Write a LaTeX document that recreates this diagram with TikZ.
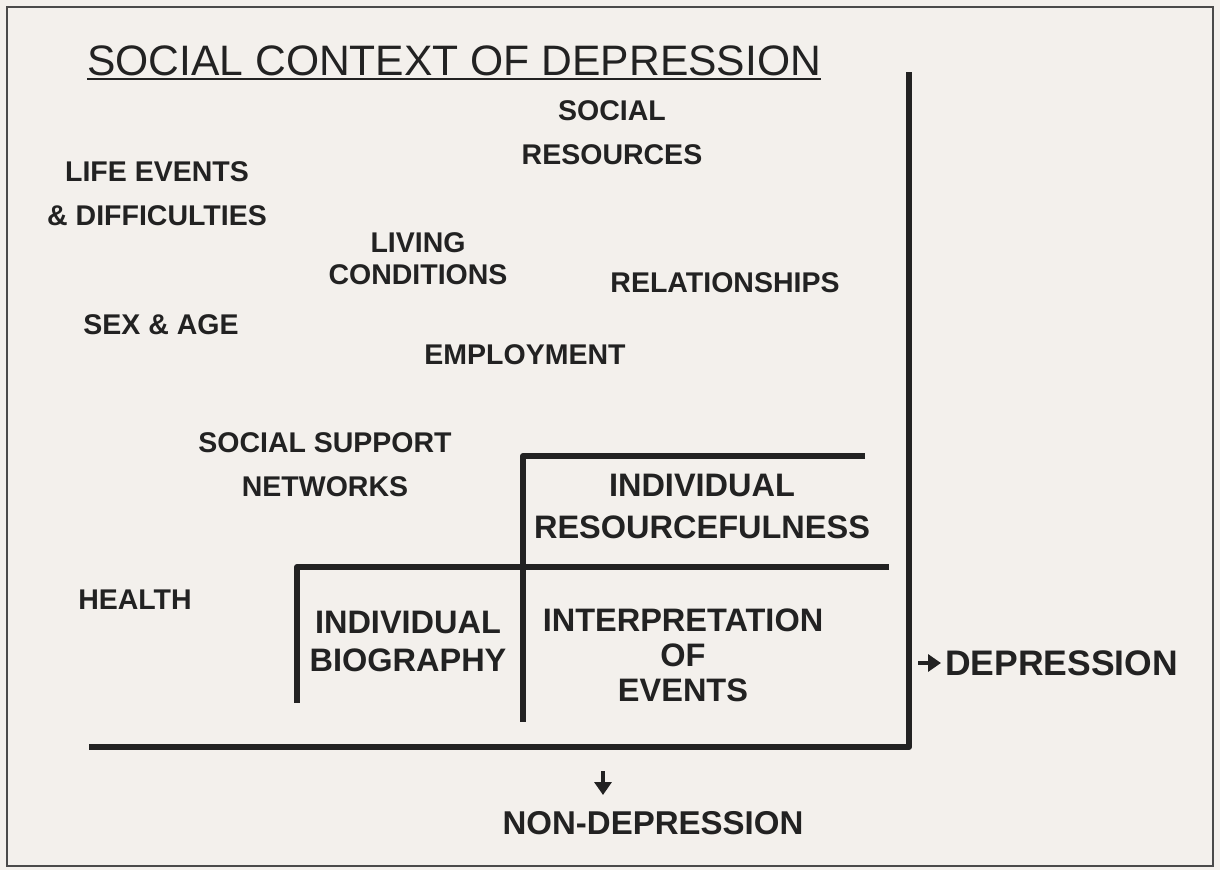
\documentclass[tikz,border=0pt]{standalone}
\usepackage{fontspec}
\setmainfont{Liberation Sans}
\usetikzlibrary{arrows.meta}
\definecolor{paper}{HTML}{F3F0EC}
\definecolor{ink}{HTML}{222222}
\definecolor{frame}{HTML}{4A4A4A}
\tikzset{
  lbl/.style={text=ink, align=center, inner sep=0pt, font=\bfseries\fontsize{28.5}{44}\selectfont},
  inner lbl/.style={lbl, font=\bfseries\fontsize{32.5}{38}\selectfont},
  thick line/.style={draw=ink, line width=6pt, line join=round},
  arrowline/.style={draw=ink, line width=4.5pt, -{Triangle[length=13pt,width=17pt]}},
}
\begin{document}
\begin{tikzpicture}[x=1pt,y=-1pt]
\fill[paper] (0,0) rectangle (1220,870);
\useasboundingbox (0,0) rectangle (1220,870);
\draw[frame, line width=1.6pt] (7,7) rectangle (1213,866);

% title
\node[anchor=base west, inner sep=0pt, text=ink, font=\fontsize{42.6}{50}\selectfont] (title) at (87,75) {SOCIAL CONTEXT OF DEPRESSION};
\draw[ink, line width=2pt] (title.base west) ++(0,4) -- ([yshift=-4pt]title.base east);

% structure lines
\coordinate (rtop) at (909,72);
\coordinate (corner) at (909,747);
\coordinate (bleft) at (89,747);
\draw[thick line] (rtop) -- (corner) -- (bleft);
\draw[thick line] (865,456) -- (523,456) -- (523,722);
\draw[thick line] (889,567) -- (297,567) -- (297,703);

% outer labels
\node[lbl] (socres) at (612,133) {SOCIAL\\RESOURCES};
\node[lbl] (life) at (157,194) {LIFE EVENTS\\\& DIFFICULTIES};
\node[lbl, font=\bfseries\fontsize{28.5}{32}\selectfont] (living) at (418,259) {LIVING\\CONDITIONS};
\node[lbl] (rel) at (725,283) {RELATIONSHIPS};
\node[lbl] (sexage) at (161,325) {SEX \& AGE};
\node[lbl] (employ) at (525,355) {EMPLOYMENT};
\node[lbl] (ssn) at (325,465) {SOCIAL SUPPORT\\NETWORKS};
\node[lbl] (health) at (135,600) {HEALTH};

% inner labels
\node[inner lbl, font=\bfseries\fontsize{32.5}{42}\selectfont] (indres) at (702,506) {INDIVIDUAL\\RESOURCEFULNESS};
\node[inner lbl] (indbio) at (408,641) {INDIVIDUAL\\BIOGRAPHY};
\node[inner lbl, font=\bfseries\fontsize{32.5}{35}\selectfont] (interp) at (683,655) {INTERPRETATION\\OF\\EVENTS};

% outcomes
\node[lbl, anchor=west, font=\bfseries\fontsize{35.5}{40}\selectfont] (dep) at (945,663) {DEPRESSION};
\node[lbl, font=\bfseries\fontsize{33}{40}\selectfont] (nondep) at (653,823) {NON-DEPRESSION};
\coordinate (depstart) at (918,663);
\coordinate (ndstart) at (603,771);
\coordinate (ndend) at (603,795);
\draw[arrowline] (depstart) -- ([xshift=-4pt]dep.west);
\draw[arrowline] (ndstart) -- (ndend);
\end{tikzpicture}
\end{document}
